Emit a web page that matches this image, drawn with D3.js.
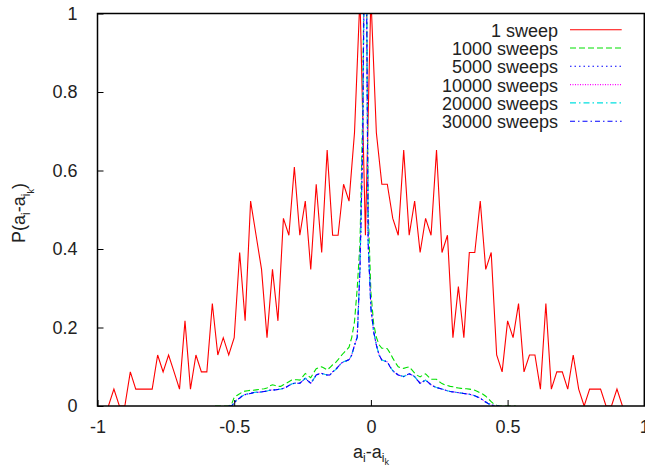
<!DOCTYPE html>
<html>
<head>
<meta charset="utf-8">
<script src="https://cdn.jsdelivr.net/npm/d3@7"></script>
<style>
  body { margin: 0; background: #fff; }
  svg { display: block; font-family: "Liberation Sans", Arial, sans-serif; }
  .tick-label { font-size: 18px; fill: #222; }
  .legend-label { font-size: 18px; fill: #222; }
</style>
</head>
<body>
<div id="chart"></div>
<script>
// one sweep: bins every 0.02 starting at -0.96
const oneSweepStart = -0.96, oneSweepStep = 0.02;
const sweep1 = [
  0, 0.043, 0, 0, 0.087, 0.043, 0.043, 0.043, 0.043, 0.130,
  0.087, 0.130, 0.087, 0.043, 0.217, 0.043, 0.130, 0.087, 0.087, 0.261,
  0.130, 0.174, 0.130, 0.174, 0.391, 0.217, 0.522, 0.435, 0.348, 0.174,
  0.348, 0.217, 0.478, 0.435, 0.609, 0.435, 0.522, 0.348, 0.565, 0.391,
  0.652, 0.435, 0.435, 0.565, 0.522, 0.696, 1.043, 0.435, 1.043,
  0.696, 0.565, 0.565, 0.478, 0.435, 0.652, 0.435, 0.522, 0.391, 0.478,
  0.435, 0.652, 0.391, 0.435, 0.174, 0.304, 0.174, 0.391, 0.391, 0.522,
  0.348, 0.391, 0.130, 0.087, 0.217, 0.174, 0.261, 0.087, 0.130, 0.130,
  0.043, 0.261, 0.043, 0.087, 0.087, 0.043, 0.130, 0.043, 0, 0.043,
  0.043, 0.043, 0, 0, 0.043, 0
];

// 1000 sweeps: bins every 0.01 starting at -0.57
const sweep1000Start = -0.57, fineStep = 0.01;
const sweep1000 = [
  0, 0, 0, 0, 0, 0, 0.004, 0.022, 0.027, 0.031,
  0.036, 0.038, 0.039, 0.040, 0.040, 0.041, 0.042, 0.043, 0.044, 0.046,
  0.051, 0.054, 0.052, 0.050, 0.050, 0.054, 0.058, 0.062, 0.066, 0.067,
  0.067, 0.066, 0.074, 0.083, 0.077, 0.072, 0.084, 0.095, 0.098, 0.100,
  0.096, 0.092, 0.098, 0.105, 0.110, 0.118, 0.127, 0.135, 0.142, 0.150,
  0.175, 0.215, 0.300, 0.415, 0.750, 1.500, 0.500, 0.290, 0.210, 0.175,
  0.156, 0.147, 0.147, 0.146, 0.135, 0.122, 0.110, 0.100, 0.097, 0.096,
  0.098, 0.100, 0.092, 0.084, 0.078, 0.074, 0.079, 0.082, 0.075, 0.068,
  0.068, 0.068, 0.062, 0.057, 0.054, 0.052, 0.050, 0.049, 0.047, 0.046,
  0.045, 0.044, 0.044, 0.043, 0.042, 0.040, 0.037, 0.033, 0.030, 0.025,
  0.018, 0.011, 0.005, 0.002, 0, 0, 0, 0, 0, 0, 0
];

// 5000 to 30000 sweeps lie on top of each other: bins every 0.01 starting at -0.52
const convergedStart = -0.52;
const sweepConverged = [
  0, 0, 0.008, 0.016, 0.020, 0.026, 0.029, 0.031, 0.032, 0.034,
  0.035, 0.035, 0.036, 0.037, 0.038, 0.040, 0.041, 0.041, 0.042, 0.043,
  0.045, 0.048, 0.052, 0.056, 0.058, 0.058, 0.058, 0.064, 0.071, 0.064,
  0.058, 0.068, 0.079, 0.082, 0.083, 0.081, 0.079, 0.079, 0.087, 0.092,
  0.100, 0.108, 0.113, 0.115, 0.118, 0.130, 0.155, 0.175, 0.350, 0.670,
  1.500, 0.415, 0.250, 0.190, 0.155, 0.130, 0.117, 0.115, 0.112, 0.100,
  0.090, 0.084, 0.079, 0.077, 0.075, 0.079, 0.082, 0.079, 0.075, 0.066,
  0.058, 0.062, 0.066, 0.060, 0.054, 0.050, 0.047, 0.045, 0.043, 0.041,
  0.039, 0.037, 0.036, 0.035, 0.034, 0.033, 0.032, 0.031, 0.030, 0.028,
  0.026, 0.023, 0.020, 0.015, 0.010, 0.006, 0.003, 0.001, 0, 0
];

const xTicks = [-1, -0.5, 0, 0.5, 1];
const yTicks = [0, 0.2, 0.4, 0.6, 0.8, 1];

const series = [
  { name: "1 sweep",      values: sweep1,         start: oneSweepStart,  step: oneSweepStep, color: "#ff0000", dash: null },
  { name: "1000 sweeps",  values: sweep1000,      start: sweep1000Start, step: fineStep, color: "#00e000", dash: "6,3" },
  { name: "5000 sweeps",  values: sweepConverged, start: convergedStart, step: fineStep, color: "#0000ff", dash: "1.5,3" },
  { name: "10000 sweeps", values: sweepConverged, start: convergedStart, step: fineStep, color: "#ff00ff", dash: "1,1.5" },
  { name: "20000 sweeps", values: sweepConverged, start: convergedStart, step: fineStep, color: "#00e0e0", dash: "6,3,1.5,3" },
  { name: "30000 sweeps", values: sweepConverged, start: convergedStart, step: fineStep, color: "#0000ff", dash: "5,3,1.5,3" }
];

const width = 645, height = 468;
const plot = { left: 97.5, right: 644.3, top: 13.5, bottom: 406 };

const svg = d3.select("#chart").append("svg")
  .attr("width", width)
  .attr("height", height);

const xScale = d3.scaleLinear().domain([-1, 1]).range([plot.left, plot.right]);
const yScale = d3.scaleLinear().domain([0, 1]).range([plot.bottom, plot.top]);

svg.append("clipPath").attr("id", "plotclip")
  .append("rect")
  .attr("x", plot.left).attr("y", plot.top)
  .attr("width", plot.right - plot.left).attr("height", plot.bottom - plot.top);

const line = d3.line()
  .x(function(d) { return xScale(d.x); })
  .y(function(d) { return yScale(d.y); });

const lines = svg.append("g").attr("clip-path", "url(#plotclip)");
series.forEach(function(s) {
  let pts = s.values.map(function(v, i) { return { x: s.start + i * s.step, y: v }; });
  lines.append("path")
    .datum(pts)
    .attr("fill", "none")
    .attr("stroke", s.color)
    .attr("stroke-width", 1.1)
    .attr("stroke-dasharray", s.dash)
    .attr("d", line);
});

// axes (ticks inward, no mirror)
let xaxis = svg.append("g")
  .attr("transform", "translate(0," + plot.bottom + ")")
  .call(d3.axisBottom(xScale).tickValues(xTicks).tickSizeInner(-6).tickSizeOuter(0).tickPadding(14)
    .tickFormat(function(d) { return d3.format("")(d).replace("−", "-"); }));
xaxis.select(".domain").remove();
xaxis.selectAll("line").attr("stroke", "#000");
xaxis.selectAll("text").attr("class", "tick-label").attr("font-size", null).attr("font-family", null);

let yaxis = svg.append("g")
  .attr("transform", "translate(" + plot.left + ",0)")
  .call(d3.axisLeft(yScale).tickValues(yTicks).tickSizeInner(-6).tickSizeOuter(0).tickPadding(20)
    .tickFormat(d3.format("")));
yaxis.select(".domain").remove();
yaxis.selectAll("line").attr("stroke", "#000");
yaxis.selectAll("text").attr("class", "tick-label").attr("font-size", null).attr("font-family", null);

// border in front of the curves
svg.append("rect")
  .attr("x", plot.left).attr("y", plot.top)
  .attr("width", plot.right - plot.left).attr("height", plot.bottom - plot.top)
  .attr("fill", "none")
  .attr("stroke", "#000")
  .attr("stroke-width", 1.5);

// x axis title: a_i - a_{i_k}
let xt = svg.append("text")
  .attr("x", 371).attr("y", 458)
  .attr("text-anchor", "middle")
  .attr("class", "tick-label");
xt.append("tspan").text("a");
xt.append("tspan").attr("dy", 4).attr("font-size", 12).text("i");
xt.append("tspan").attr("dy", -4).text("-a");
xt.append("tspan").attr("dy", 4).attr("font-size", 12).text("i");
xt.append("tspan").attr("dy", 3).attr("font-size", 9).text("k");

// y axis title: P(a_i - a_{i_k})
let yt = svg.append("text")
  .attr("transform", "translate(25,213) rotate(-90)")
  .attr("text-anchor", "middle")
  .attr("class", "tick-label");
yt.append("tspan").text("P(a");
yt.append("tspan").attr("dy", 5).attr("font-size", 12).text("i");
yt.append("tspan").attr("dy", -5).text("-a");
yt.append("tspan").attr("dy", 5).attr("font-size", 12).text("i");
yt.append("tspan").attr("dy", 4).attr("font-size", 9).text("k");
yt.append("tspan").attr("dy", -9).text(")");

// legend
const legendBase = 36.7, legendGap = 18.3;
series.forEach(function(s, i) {
  let y = legendBase + i * legendGap;
  svg.append("text")
    .attr("class", "legend-label")
    .attr("x", 558).attr("y", y)
    .attr("text-anchor", "end")
    .text(s.name);
  svg.append("line")
    .attr("x1", 570).attr("x2", 621.7)
    .attr("y1", y - 7).attr("y2", y - 7)
    .attr("stroke", s.color)
    .attr("stroke-width", 1.1)
    .attr("stroke-dasharray", s.dash);
});
</script>
</body>
</html>
